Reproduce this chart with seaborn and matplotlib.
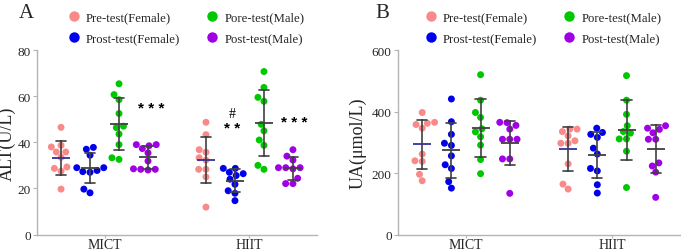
import numpy as np
import pandas as pd
import matplotlib
matplotlib.use("Agg")
import matplotlib.pyplot as plt
import seaborn as sns

# ---------------- data ----------------
groups = ["MICT", "HIIT"]
conditions = ["Pre-test(Female)", "Prost-test(Female)", "Pore-test(Male)", "Post-test(Male)"]
point_colors = ["#F88A8A", "#0000EE", "#00C800", "#A000E6"]
mean_colors = ["#3030A0", "#404040", "#404040", "#404040"]

# ALT (U/L)
alt_mict_pre_f = [46.5, 38.7, 38.0, 35.8, 35.8, 33.5, 29.3, 28.7, 27.5, 19.7]
alt_mict_post_f = [37.8, 37.0, 34.4, 29.0, 29.0, 27.0, 27.3, 27.8, 19.7, 18.1]
alt_mict_pre_m = [65.4, 60.7, 58.5, 52.5, 47.0, 46.4, 43.6, 39.0, 33.3, 32.6]
alt_mict_post_m = [39.0, 39.0, 38.5, 37.3, 35.4, 31.9, 28.5, 28.3, 28.3, 28.0]
alt_hiit_pre_f = [48.7, 43.3, 36.8, 35.7, 33.3, 32.3, 28.3, 28.3, 25.0, 11.9]
alt_hiit_post_f = [28.7, 28.7, 27.0, 26.4, 25.6, 24.0, 21.8, 19.0, 17.9, 14.7]
alt_hiit_pre_m = [70.7, 63.8, 57.8, 59.5, 47.8, 45.0, 41.0, 38.7, 28.3, 30.0]
alt_hiit_post_m = [36.8, 34.0, 32.3, 29.0, 29.0, 29.0, 28.5, 24.4, 22.1, 22.1]

# UA (umol/L)
ua_mict_pre_f = [397, 362, 365, 358, 346, 262, 238, 240, 196, 175]
ua_mict_post_f = [441, 367, 326, 297, 290, 256, 215, 227, 172, 151]
ua_mict_pre_m = [520, 437, 381, 397, 334, 344, 318, 291, 244, 198]
ua_mict_post_m = [355, 364, 365, 343, 310, 310, 310, 246, 246, 134]
ua_hiit_pre_f = [335, 343, 343, 305, 321, 297, 297, 230, 164, 148]
ua_hiit_post_f = [326, 332, 346, 316, 281, 262, 207, 215, 162, 135]
ua_hiit_pre_m = [517, 437, 391, 354, 335, 330, 311, 311, 271, 153]
ua_hiit_post_m = [346, 354, 342, 331, 310, 310, 233, 223, 203, 121]

alt_sets = {
    ("MICT", conditions[0]): alt_mict_pre_f, ("MICT", conditions[1]): alt_mict_post_f,
    ("MICT", conditions[2]): alt_mict_pre_m, ("MICT", conditions[3]): alt_mict_post_m,
    ("HIIT", conditions[0]): alt_hiit_pre_f, ("HIIT", conditions[1]): alt_hiit_post_f,
    ("HIIT", conditions[2]): alt_hiit_pre_m, ("HIIT", conditions[3]): alt_hiit_post_m,
}
ua_sets = {
    ("MICT", conditions[0]): ua_mict_pre_f, ("MICT", conditions[1]): ua_mict_post_f,
    ("MICT", conditions[2]): ua_mict_pre_m, ("MICT", conditions[3]): ua_mict_post_m,
    ("HIIT", conditions[0]): ua_hiit_pre_f, ("HIIT", conditions[1]): ua_hiit_post_f,
    ("HIIT", conditions[2]): ua_hiit_pre_m, ("HIIT", conditions[3]): ua_hiit_post_m,
}


def to_frame(sets):
    rows = []
    for (g, c), vals in sets.items():
        for v in vals:
            rows.append({"group": g, "cond": c, "value": v})
    return pd.DataFrame(rows)


df_alt = to_frame(alt_sets)
df_ua = to_frame(ua_sets)

# ---------------- style ----------------
sns.set_style("ticks")
plt.rcParams["font.family"] = ["Liberation Serif", "DejaVu Serif"]
plt.rcParams["axes.edgecolor"] = "#b4b4b4"

fig = plt.figure(figsize=(6.81, 2.53), dpi=100)
axA = fig.add_axes([0.0543, 0.069, 0.4112, 0.729])
axB = fig.add_axes([0.5844, 0.069, 0.414, 0.729])


def draw(ax, d, ylim, yticks, ylabel, label_x, legend_x):
    sns.swarmplot(data=d, x="group", y="value", hue="cond", order=groups,
                  hue_order=conditions, palette=point_colors, dodge=True,
                  size=5.0, linewidth=0, ax=ax, zorder=2)
    sns.pointplot(data=d, x="group", y="value", hue="cond", order=groups,
                  hue_order=conditions, palette=mean_colors, errorbar="sd",
                  dodge=0.6, linestyle="none", markers="_", markersize=13,
                  markeredgewidth=1.3, capsize=0.07,
                  err_kws={"color": "#404040", "linewidth": 1.2},
                  legend=False, ax=ax)
    ax.set_xlim(-0.466, 1.466)
    ax.set_ylim(*ylim)
    ax.set_yticks(yticks)
    ax.set_xlabel("")
    ax.set_ylabel(ylabel, fontsize=13)
    ax.yaxis.set_label_coords(label_x, 0.5)
    sns.despine(ax=ax)
    for s in ("left", "bottom"):
        ax.spines[s].set_color("#b4b4b4")
        ax.spines[s].set_linewidth(1.0)
    ax.tick_params(axis="y", length=3, color="#b4b4b4", labelsize=9.5, pad=1.5)
    ax.tick_params(axis="x", length=2.5, color="#b4b4b4", labelsize=10, pad=0.3)
    sns.move_legend(ax, "center", bbox_to_anchor=(legend_x, 1.122), ncol=2,
                    frameon=False, title=None, fontsize=9.2, handlelength=1.0,
                    handletextpad=0.45, columnspacing=2.0, labelspacing=0.72,
                    markerscale=1.5)


draw(axA, df_alt, (0, 80), [0, 20, 40, 60, 80], "ALT(U/L)", -0.075, 0.532)
draw(axB, df_ua, (0, 600), [0, 200, 400, 600], "UA(μmol/L)", -0.11, 0.514)

# significance marks
star_kw = dict(ha="center", va="center", fontsize=11, fontweight="bold",
               family=["Liberation Sans", "DejaVu Sans"], color="black")
axA.text(0.32, 55.0, "* * *", **star_kw)
axA.text(1.31, 48.8, "* * *", **star_kw)
axA.text(0.88, 46.0, "* *", **star_kw)
axA.text(0.88, 52.3, "#", ha="center", va="center", fontsize=10, color="black")

fig.text(0.028, 0.927, "A", fontsize=15, va="baseline", ha="left")
fig.text(0.551, 0.927, "B", fontsize=15, va="baseline", ha="left")

fig.savefig("out.png", dpi=100)
